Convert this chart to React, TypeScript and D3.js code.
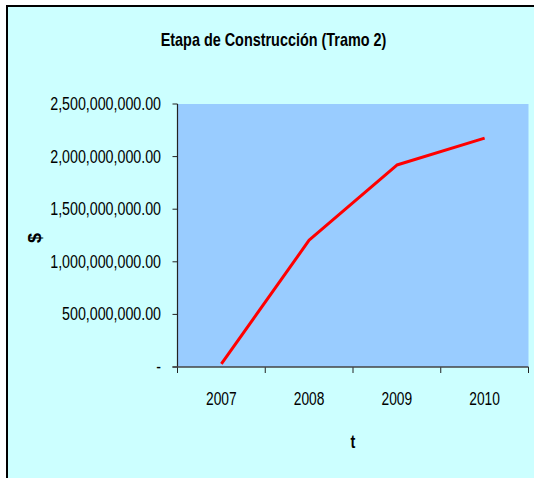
import React from "react";
import * as d3 from "d3";

const years = ["2007", "2008", "2009", "2010"];
const values = [30000000, 1205000000, 1920000000, 2175000000];
const yTicks = [0, 500000000, 1000000000, 1500000000, 2000000000, 2500000000];
const title = "Etapa de Construcción (Tramo 2)";
const xTitle = "t";
const yTitle = "$";

const W = 534;
const H = 478;
const FONT = "'Liberation Sans Narrow', 'Arial Narrow', 'Liberation Sans', Arial, sans-serif";
const SY = 1.2;

export default function App() {
  const left = 177.5, right = 528.5, top = 104, bottom = 367;
  const x = d3.scaleBand<string>().domain(years).range([left, right]).padding(0);
  const y = d3.scaleLinear().domain([0, 2500000000]).range([bottom, top]);
  const fmt = d3.format(",.2f");
  const line = d3
    .line<number>()
    .x((_, i) => (x(years[i]) as number) + x.bandwidth() / 2)
    .y((d) => y(d));
  const boundaries = years.map((yr) => x(yr) as number).concat([right]);

  return (
    <svg width={W} height={H} style={{ position: "absolute", left: 0, top: 0 }}>
      <rect x={0} y={0} width={W} height={H} fill="#ffffff" />
      <rect x={6} y={5} width={W} height={H} fill="#CCFFFF" />
      <line x1={7} y1={5} x2={7} y2={H} stroke="#000" strokeWidth={2} />
      <line x1={6} y1={6} x2={W} y2={6} stroke="#000" strokeWidth={2} />
      <text
        transform={`translate(273.5,46) scale(0.9,${SY})`}
        textAnchor="middle"
        fontFamily={FONT}
        fontWeight="bold"
        fontSize={16}
        fill="#000"
      >
        {title}
      </text>
      <rect x={left} y={top} width={right - left} height={bottom - top} fill="#99CCFF" />
      {yTicks.map((t) => (
        <g key={t}>
          <line x1={left - 5} x2={left} y1={y(t)} y2={y(t)} stroke="#222" strokeWidth={1} />
          <text
            transform={`translate(161,${y(t) + 6}) scale(0.89,${SY})`}
            textAnchor="end"
            fontFamily={FONT}
            fontSize={16}
            fill="#000"
          >
            {t === 0 ? "-" : fmt(t)}
          </text>
        </g>
      ))}
      {boundaries.map((bx, i) => (
        <line key={i} x1={bx} x2={bx} y1={bottom} y2={bottom + 6} stroke="#222" strokeWidth={1} />
      ))}
      <line x1={left} x2={left} y1={top} y2={bottom} stroke="#222" strokeWidth={1.2} />
      <line x1={left - 5} x2={right} y1={bottom} y2={bottom} stroke="#444" strokeWidth={1.5} />
      {years.map((yr) => (
        <text
          key={yr}
          transform={`translate(${(x(yr) as number) + x.bandwidth() / 2},405) scale(0.86,${SY})`}
          textAnchor="middle"
          fontFamily={FONT}
          fontSize={16}
          fill="#000"
        >
          {yr}
        </text>
      ))}
      <path d={line(values) || ""} fill="none" stroke="#FF0000" strokeWidth={3} strokeLinejoin="round" />
      <text
        transform={`translate(353,448) scale(0.9,${SY})`}
        textAnchor="middle"
        fontFamily={FONT}
        fontWeight="bold"
        fontSize={16}
        fill="#000"
      >
        {xTitle}
      </text>
      <text
        transform={`translate(41,238) rotate(-90)`}
        textAnchor="middle"
        fontFamily={FONT}
        fontWeight="bold"
        fontSize={18}
        fill="#000"
      >
        {yTitle}
      </text>
    </svg>
  );
}
